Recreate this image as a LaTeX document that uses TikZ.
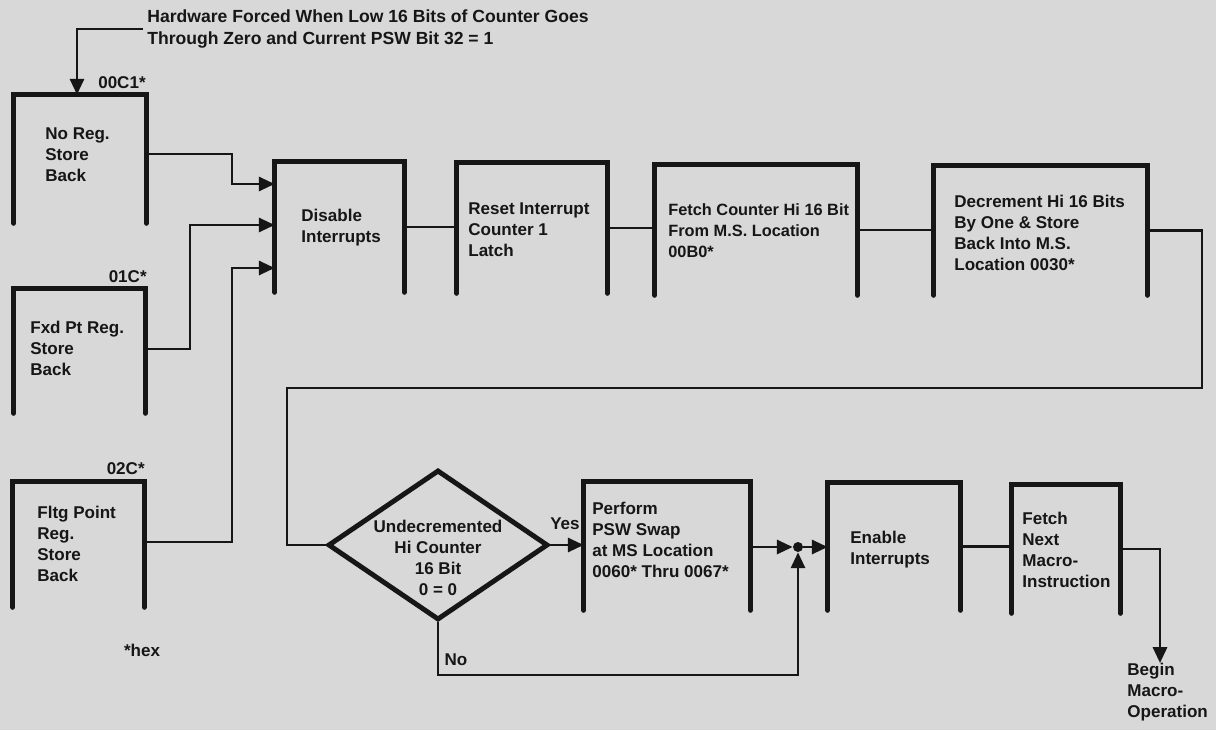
\documentclass[tikz,border=0pt]{standalone}
\usepackage{fontspec}
\setmainfont{Liberation Sans}
\usetikzlibrary{arrows.meta,shapes.geometric}
\newlength{\pxu}\setlength{\pxu}{0.02cm}
\definecolor{paper}{RGB}{216,216,216}
\definecolor{ink}{RGB}{22,22,22}
\tikzset{
  opbox/.style 2 args={rectangle, inner sep=0, minimum width=#1\pxu, minimum height=#2\pxu},
  boxline/.style={line width=2.8pt, line cap=round, line join=miter, draw=ink},
  conn/.style={line width=1.6pt, draw=ink},
  arr/.style={-{Triangle[length=9pt,width=8pt]}},
  txt/.style={font=\bfseries\fontsize{9.7}{12}\selectfont, text=ink, align=left, inner sep=0},
}
\begin{document}
\begin{tikzpicture}[x=0.02cm,y=-0.02cm]
\fill[paper] (0,0) rectangle (1216,730);
\useasboundingbox (0,0) rectangle (1216,730);

% boxes
\node[opbox={132}{128}] (b1) at (80,159) {};
\node[opbox={131}{124}] (b2) at (79.5,351) {};
\node[opbox={131}{125}] (b3) at (78.5,544.5) {};
\node[opbox={129}{130}] (dis) at (339.5,227) {};
\node[opbox={150}{130}] (rst) at (532,228) {};
\node[opbox={202}{130}] (fch) at (756,230) {};
\node[opbox={213}{129}] (dec) at (1040.5,230.5) {};
\node[opbox={166}{128}] (per) at (667,546) {};
\node[opbox={132}{127}] (ena) at (894,546.5) {};
\node[opbox={108}{128}] (fnx) at (1066,549) {};
\foreach \n in {b1,b2,b3,dis,rst,fch,dec,per,ena,fnx}
  \draw[boxline] (\n.south west) -- (\n.north west) -- (\n.north east) -- (\n.south east);

% box texts
\node[txt, anchor=west] (b1t) at (45,155) {No Reg.\\Store\\Back};
\node[txt, anchor=west] (b2t) at (30,348) {Fxd Pt Reg.\\Store\\Back};
\node[txt, anchor=west] (b3t) at (37,544) {Fltg Point\\Reg.\\Store\\Back};
\node[txt, anchor=west] (dist) at (301,228) {Disable\\Interrupts};
\node[txt, anchor=west] (rstt) at (468,230) {Reset Interrupt\\Counter 1\\Latch};
\node[txt, anchor=west, font=\bfseries\fontsize{9.3}{12}\selectfont] (fcht) at (668,231) {Fetch Counter Hi 16 Bit\\From M.S. Location\\00B0*};
\node[txt, anchor=west] (dect) at (954,233) {Decrement Hi 16 Bits\\By One \& Store\\Back Into M.S.\\Location 0030*};
\node[txt, anchor=west] (pert) at (592,540) {Perform\\PSW Swap\\at MS Location\\0060* Thru 0067*};
\node[txt, anchor=west] (enat) at (850,550) {Enable\\Interrupts};
\node[txt, anchor=west] (fnxt) at (1022,550) {Fetch\\Next\\Macro-\\Instruction};

% decision
\node[diamond, draw=ink, line width=2.8pt, minimum width=220\pxu, minimum height=150\pxu, inner sep=0] (dia) at (438,545) {};
\node[txt, align=center] (diat) at (438,558) {Undecremented\\Hi Counter\\16 Bit\\0 = 0};

% junction
\node[circle, fill=ink, inner sep=0, minimum size=10\pxu] (jn) at (798,547) {};

% labels
\node[txt, anchor=west, font=\bfseries\fontsize{10}{12.4}\selectfont] (title) at (147,29) {Hardware Forced When Low 16 Bits of Counter Goes\\Through Zero and Current PSW Bit 32 = 1};
\node[txt, anchor=base east] (l1) at (146,88) {00C1*};
\node[txt, anchor=base east] (l2) at (147,282) {01C*};
\node[txt, anchor=base east] (l3) at (145,474) {02C*};
\node[txt] (hex) at (142,650) {*hex};
\node[txt] (yes) at (565,524) {Yes};
\node[txt] (no) at (456,660) {No};
\node[txt, anchor=north west] (beg) at (1127,663) {Begin\\Macro-\\Operation};

% connectors
\coordinate (t1) at (77,27);
\draw[conn,arr] ([xshift=-4\pxu]title.west) -- (title.west -| t1) -- (t1 |- b1.north);

\coordinate (k1) at (232,154); \coordinate (k2) at (232,184);
\draw[conn,arr] (b1.east |- k1) -- (k1) -- (k2) -- (dis.west |- k2);
\coordinate (k3) at (190,349); \coordinate (k4) at (190,225);
\draw[conn,arr] (b2.east |- k3) -- (k3) -- (k4) -- (dis.west |- k4);
\coordinate (k5) at (232,542); \coordinate (k6) at (232,268);
\draw[conn,arr] (b3.east |- k5) -- (k5) -- (k6) -- (dis.west |- k6);

\draw[conn] (dis.east) -- (rst.west |- dis.east);
\draw[conn] (rst.east) -- (fch.west |- rst.east);
\draw[conn] (fch.east) -- (dec.west |- fch.east);

\coordinate (r1) at (1202,388); \coordinate (r2) at (287,545);
\draw[conn] (dec.east) -| (r1) -| (r2) -- (dia.west);

\draw[conn,arr] (dia.east) -- (per.west |- dia.east);
\draw[conn,arr] (per.east |- jn) -- (jn.west);
\draw[conn,arr] (jn.east) -- (ena.west |- jn);
\coordinate (n1) at (438,675);
\draw[conn,arr] (dia.south) -- (n1) -- (n1 -| jn) -- (jn.south);

\draw[conn] (ena.east) -- (fnx.west |- ena.east);
\coordinate (e1) at (1160,549);
\draw[conn,arr] (fnx.east |- e1) -- (e1) -- (e1 |- beg.north);
\end{tikzpicture}
\end{document}
